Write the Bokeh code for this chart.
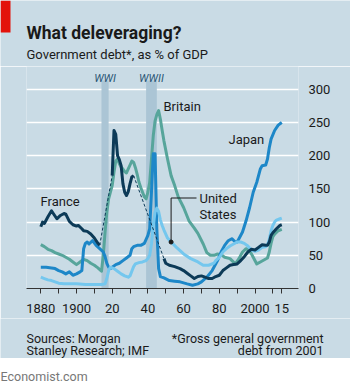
import numpy as np
from bokeh.plotting import figure
from bokeh.layouts import column, row
from bokeh.models import Label, FixedTicker
from bokeh.embed import file_html
from bokeh.resources import INLINE

# ---------------- data ----------------
france_years = [1880, 1881, 1882, 1884, 1886, 1887, 1889, 1891, 1893, 1894, 1896, 1898, 1900, 1901,
                1903, 1904, 1906, 1908, 1910, 1912, 1913,
                1920, 1921, 1922, 1923, 1924, 1925, 1926, 1927, 1928, 1929, 1930, 1931, 1932,
                1949, 1950, 1952, 1955, 1958, 1960, 1962, 1964, 1966, 1968, 1970, 1972, 1974, 1976,
                1978, 1980, 1982, 1984, 1986, 1988, 1990, 1992, 1994, 1996, 1998, 2000, 2002, 2004,
                2006, 2007, 2008, 2009, 2010, 2012, 2014, 2015]
france_vals = [93, 100, 98, 108, 117, 113, 105, 110, 113, 112, 101, 96, 94, 95,
               90, 87, 86, 82, 76, 68, 65,
               170, 238, 232, 200, 194, 185, 158, 145, 140, 146, 158, 168, 170,
               45, 38, 35, 33, 30, 27, 23, 19, 15, 18, 19, 17, 15, 15,
               18, 20, 27, 31, 35, 36, 37, 42, 48, 55, 59, 58, 62, 66,
               65, 65, 70, 80, 84, 90, 95, 96]
# years where the French series has no data (bridged by a dashed line)
france_gaps = [(1913, 1920), (1932, 1949)]

britain_years = [1880, 1882, 1884, 1886, 1888, 1890, 1892, 1894, 1896, 1898, 1900, 1902, 1904, 1906,
                 1908, 1910, 1912, 1914, 1915, 1916, 1917, 1918, 1919, 1920, 1921, 1922, 1923, 1924,
                 1925, 1926, 1927, 1928, 1929, 1930, 1931, 1932, 1933, 1934, 1935, 1936, 1937, 1938,
                 1939, 1940, 1941, 1942, 1943, 1944, 1945, 1946, 1947, 1948, 1949, 1951, 1953, 1955,
                 1957, 1960, 1963, 1966, 1968, 1971, 1973, 1975, 1977, 1979, 1981, 1983, 1986, 1989,
                 1991, 1993, 1995, 1997, 1999, 2001, 2003, 2005, 2007, 2008, 2009, 2010, 2011, 2013, 2015]
britain_vals = [66, 63, 59, 57, 54, 52, 50, 47, 44, 40, 36, 40, 44, 42,
                38, 35, 31, 26, 50, 85, 115, 135, 145, 155, 175, 192, 195, 188,
                183, 180, 176, 174, 180, 186, 192, 190, 182, 172, 160, 152, 145, 138,
                135, 145, 160, 195, 230, 252, 262, 268, 255, 238, 222, 195, 170, 155,
                138, 122, 102, 91, 83, 67, 54, 50, 50, 52, 51, 47, 45, 37,
                45, 55, 60, 57, 47, 37, 40, 43, 46, 55, 68, 78, 82, 87, 89]

japan_years = [1880, 1883, 1886, 1888, 1890, 1892, 1894, 1896, 1898, 1900, 1902, 1903, 1904, 1905,
               1906, 1907, 1909, 1911, 1913, 1915, 1916, 1917, 1918, 1919, 1920, 1922, 1924, 1926,
               1928, 1930, 1931, 1932, 1934, 1936, 1938, 1939, 1940, 1941, 1942, 1943, 1944, 1945,
               1946, 1947, 1949, 1952, 1955, 1958, 1962, 1965, 1968, 1970, 1973, 1976, 1979, 1981,
               1983, 1985, 1987, 1989, 1990, 1991, 1993, 1995, 1997, 1999, 2001, 2003, 2004, 2006,
               2007, 2008, 2009, 2011, 2013, 2015]
japan_vals = [32, 32, 31, 30, 27, 25, 22, 25, 20, 22, 25, 27, 60, 68,
              70, 67, 72, 65, 60, 55, 48, 38, 32, 30, 32, 36, 38, 42,
              46, 50, 60, 63, 65, 65, 68, 74, 80, 90, 145, 203, 203, 90,
              30, 18, 16, 12, 11, 10, 7, 5, 7, 10, 17, 27, 42, 55,
              65, 72, 75, 70, 70, 75, 85, 102, 122, 145, 160, 180, 185, 186,
              195, 212, 225, 238, 246, 250]

us_years = [1880, 1882, 1884, 1886, 1888, 1890, 1893, 1896, 1900, 1905, 1910, 1914, 1916, 1917,
            1918, 1919, 1920, 1921, 1923, 1925, 1927, 1929, 1930, 1931, 1932, 1933, 1935, 1937,
            1939, 1940, 1941, 1942, 1943, 1944, 1945, 1946, 1947, 1948, 1949, 1951, 1953, 1956,
            1960, 1964, 1968, 1971, 1974, 1977, 1978, 1980, 1982, 1984, 1986, 1988, 1990, 1992,
            1994, 1996, 1998, 2000, 2002, 2004, 2006, 2007, 2008, 2009, 2010, 2011, 2012, 2014, 2015]
us_vals = [17, 15, 13, 12, 10, 8, 7, 7, 7, 6, 6, 6, 7, 15,
           27, 32, 31, 30, 26, 22, 19, 17, 19, 26, 33, 37, 39, 40,
           42, 45, 50, 67, 95, 115, 121, 116, 103, 95, 88, 76, 70, 62,
           52, 45, 40, 35, 35, 38, 42, 47, 55, 60, 64, 67, 70, 70,
           68, 64, 58, 56, 58, 62, 63, 66, 74, 87, 95, 100, 103, 105, 106]

wars = [("WWI", 1914, 1918), ("WWII", 1939, 1945)]
y_ticks = [0, 50, 100, 150, 200, 250, 300]
x_ticks = [1880, 1890, 1900, 1910, 1920, 1930, 1940, 1950, 1960, 1970, 1980, 1990, 2000, 2010, 2015]
x_tick_labels = {1880: "1880", 1890: "", 1900: "1900", 1910: "", 1920: "20", 1930: "", 1940: "40",
                 1950: "", 1960: "60", 1970: "", 1980: "80", 1990: "", 2000: "2000", 2010: "", 2015: "15"}

# ---------------- styling ----------------
BG = "#c9dbe5"
BAND = "#abc5d5"
C_FR = "#0c3a57"
C_UK = "#57a59b"
C_JP = "#1d87c8"
C_US = "#74c7ee"
TXT = "#1a1a1a"
FONT = "Roboto"
W = 350

# canvas geometry (pixels)
HEAD_H = 66            # header panel height; frame top
FL, FR, FB = 26, 298, 288
MAIN_BOTTOM = 318
FOOT_BOTTOM = 358
TOTAL_H = 383
PX_PER_YEAR = 1.785
PX_PER_UNIT = 0.664
x0 = 1880 - (40.3 - FL) / PX_PER_YEAR
x1 = x0 + (FR - FL) / PX_PER_YEAR
y1 = (FB - HEAD_H) / PX_PER_UNIT


def X(px):
    return x0 + (px - FL) / PX_PER_YEAR


def Y(py):
    return (FB - py) / PX_PER_UNIT


def panel(top, bottom, bg):
    f = figure(width=W, height=bottom - top, x_range=(0, W), y_range=(bottom, top),
               output_backend="svg", toolbar_location=None, min_border=0,
               x_axis_location=None, y_axis_location=None)
    f.background_fill_color = bg
    f.border_fill_color = bg
    f.outline_line_color = None
    f.xgrid.visible = False
    f.ygrid.visible = False
    return f


def lab(fig, x, y, text, size="13px", align="left", baseline="middle", style="normal", color=TXT):
    fig.add_layout(Label(x=x, y=y, text=text, text_align=align, text_baseline=baseline,
                         text_font=FONT, text_font_size=size, text_font_style=style,
                         text_color=color))


# ---------------- header ----------------
h = panel(0, HEAD_H, BG)
h.quad(left=[0], right=[10], top=[0], bottom=[32], fill_color="#e3120b", line_color=None)
lab(h, 26, 32, "What deleveraging?", size="17.5px", baseline="alphabetic", style="bold")
lab(h, 26, 54, "Government debt*, as % of GDP", size="13px", baseline="alphabetic")

# ---------------- main chart ----------------
p = figure(width=W, height=MAIN_BOTTOM - HEAD_H, x_range=(x0, x1), y_range=(0, y1),
           output_backend="svg", toolbar_location=None, y_axis_location="right",
           min_border_left=FL, min_border_right=W - FR, min_border_top=0,
           min_border_bottom=MAIN_BOTTOM - FB)
p.background_fill_color = BG
p.border_fill_color = BG
p.outline_line_color = None
p.xgrid.visible = False
p.ygrid.grid_line_color = "white"
p.ygrid.grid_line_width = 1.5
p.ygrid.ticker = FixedTicker(ticks=y_ticks)

for name, a, b in wars:
    p.quad(left=[a], right=[b], bottom=[0], top=[Y(80)], fill_color=BAND, line_color=None)
    lab(p, (a + b) / 2, Y(77.5), name, size="11px", align="center", baseline="alphabetic",
        style="italic", color="#2b5675")

p.line(britain_years, britain_vals, line_color=C_UK, line_width=3, line_join="round")
p.line(japan_years, japan_vals, line_color=C_JP, line_width=3, line_join="round")
p.line(us_years, us_vals, line_color=C_US, line_width=3, line_join="round")

fy = np.array(france_years, dtype=float)
fv = np.array(france_vals, dtype=float)
for a, b in france_gaps:
    va = fv[fy == a][0]
    vb = fv[fy == b][0]
    p.line([a, b], [va, vb], line_color=C_FR, line_width=1, line_dash="3 2")
seg_x, seg_y = [], []
for i, (yr, v) in enumerate(zip(fy, fv)):
    if i > 0 and any(fy[i - 1] == a and yr == b for a, b in france_gaps):
        seg_x.append(np.nan)
        seg_y.append(np.nan)
    seg_x.append(yr)
    seg_y.append(v)
p.line(seg_x, seg_y, line_color=C_FR, line_width=3, line_join="round")

ax = p.xaxis[0]
ax.ticker = FixedTicker(ticks=x_ticks)
ax.major_label_overrides = x_tick_labels
ax.axis_line_color = "#333333"
ax.major_tick_line_color = "#333333"
ax.major_tick_in = 0
ax.major_tick_out = 5
ax.minor_tick_line_color = None
ax.major_label_text_font = FONT
ax.major_label_text_font_size = "13px"
ax.major_label_text_color = TXT
ax.major_label_standoff = 10

ay = p.yaxis[0]
ay.ticker = FixedTicker(ticks=y_ticks)
ay.axis_line_color = None
ay.major_tick_line_color = None
ay.minor_tick_line_color = None
ay.major_label_text_font = FONT
ay.major_label_text_font_size = "13px"
ay.major_label_text_color = TXT
ay.major_label_standoff = 4

lab(p, X(40), Y(201), "France")
lab(p, X(163), Y(106), "Britain")
lab(p, X(228), Y(139), "Japan")
lab(p, X(199), Y(197.5), "United")
lab(p, X(199), Y(213.5), "States")

dot_x = 1953
dot_y = float(np.interp(dot_x, us_years, us_vals))
p.line([dot_x, dot_x, X(196)], [dot_y, Y(197.5), Y(197.5)], line_color=TXT, line_width=1)
p.scatter([dot_x], [dot_y], size=4, color=TXT)

# ---------------- footer ----------------
f = panel(MAIN_BOTTOM, FOOT_BOTTOM, BG)
lab(f, 26, 337.5, "Sources: Morgan", size="12.5px", baseline="alphabetic")
lab(f, 26, 349.5, "Stanley Research; IMF", size="12.5px", baseline="alphabetic")
lab(f, 323, 337.5, "*Gross general government", size="12.5px", align="right", baseline="alphabetic")
lab(f, 323, 349.5, "debt from 2001", size="12.5px", align="right", baseline="alphabetic")

s = panel(FOOT_BOTTOM, TOTAL_H, "white")
lab(s, 0, 376, "Economist.com", size="12.5px", baseline="alphabetic", color="#777777")

# the chart sits in its own row so the text panels keep their own full-width frames
layout = column(h, row(p, spacing=0), f, s, spacing=0)
open("out.html", "w").write(file_html(layout, INLINE))
